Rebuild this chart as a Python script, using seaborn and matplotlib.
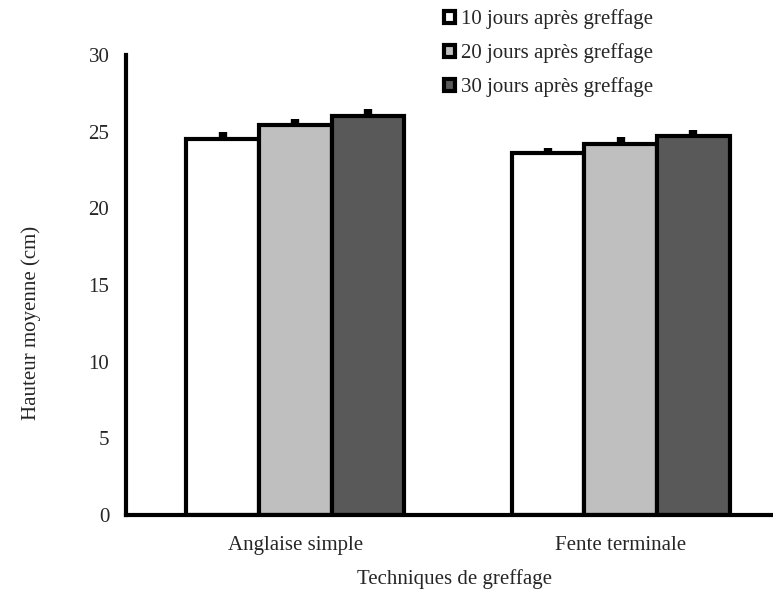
import matplotlib
matplotlib.use("Agg")
import matplotlib.pyplot as plt
import numpy as np
import pandas as pd
import seaborn as sns

techniques = ["Anglaise simple", "Fente terminale"]
periodes = ["10 jours après greffage", "20 jours après greffage", "30 jours après greffage"]
hauteurs = {
    "10 jours après greffage": [24.55, 23.6],
    "20 jours après greffage": [25.45, 24.2],
    "30 jours après greffage": [26.05, 24.7],
}
erreurs = {
    "10 jours après greffage": [0.4, 0.35],
    "20 jours après greffage": [0.4, 0.45],
    "30 jours après greffage": [0.45, 0.4],
}
couleurs = ["#ffffff", "#bfbfbf", "#595959"]
y_ticks = [0, 5, 10, 15, 20, 25, 30]

rows = []
for p in periodes:
    for t, h in zip(techniques, hauteurs[p]):
        rows.append({"Technique": t, "Periode": p, "Hauteur": h})
df = pd.DataFrame(rows)

sns.set_style("white")
plt.rcParams["font.family"] = ["Liberation Serif", "DejaVu Serif"]

fig = plt.figure(figsize=(7.73, 5.93), dpi=100)
ax = fig.add_axes([0.163, 0.1315, 0.8506, 0.7757])

sns.barplot(data=df, x="Technique", y="Hauteur", hue="Periode",
            order=techniques, hue_order=periodes, palette=couleurs,
            width=0.67, gap=0, edgecolor="black", linewidth=3,
            errorbar=None, saturation=1, ax=ax)

# upper error bars only
for cont, p in zip(ax.containers, periodes):
    xs = [b.get_x() + b.get_width() / 2 for b in cont]
    ys = [b.get_height() for b in cont]
    err = erreurs[p]
    ax.errorbar(xs, ys, yerr=[[0] * len(err), err], fmt="none",
                ecolor="black", elinewidth=6, capsize=0)

ax.set_ylim(0, 30)
ax.set_xlim(-0.52, 1.5)
ax.set_yticks(y_ticks)
ax.set_yticklabels([str(v) for v in y_ticks], fontsize=15)

# category labels centred, tick marks between groups
ax.set_xticks([0, 1])
ax.set_xticklabels(techniques, fontsize=15)
ax.tick_params(axis="x", length=0, pad=15)
ax.set_xticks([0.5, 1.5], minor=True)
ax.tick_params(axis="x", which="minor", direction="out", length=6, width=3, color="black")
ax.tick_params(axis="y", direction="out", length=5, width=3, color="black", pad=7)

for side in ["top", "right"]:
    ax.spines[side].set_visible(False)
for side in ["left", "bottom"]:
    ax.spines[side].set_linewidth(3)
    ax.spines[side].set_color("black")

ax.set_xlabel("Techniques de greffage", fontsize=15, labelpad=10)
ax.set_ylabel("Hauteur moyenne (cm)", fontsize=15)
ax.yaxis.set_label_coords(-0.13, 0.417)

handles, labels = ax.get_legend_handles_labels()
ax.legend(handles, labels, loc="upper left", bbox_to_anchor=(0.55, 1.016),
          bbox_transform=fig.transFigure, frameon=False, fontsize=15,
          handlelength=0.55, handleheight=0.55, handletextpad=0.25,
          labelspacing=0.68)

fig.savefig("out.png", dpi=100)
